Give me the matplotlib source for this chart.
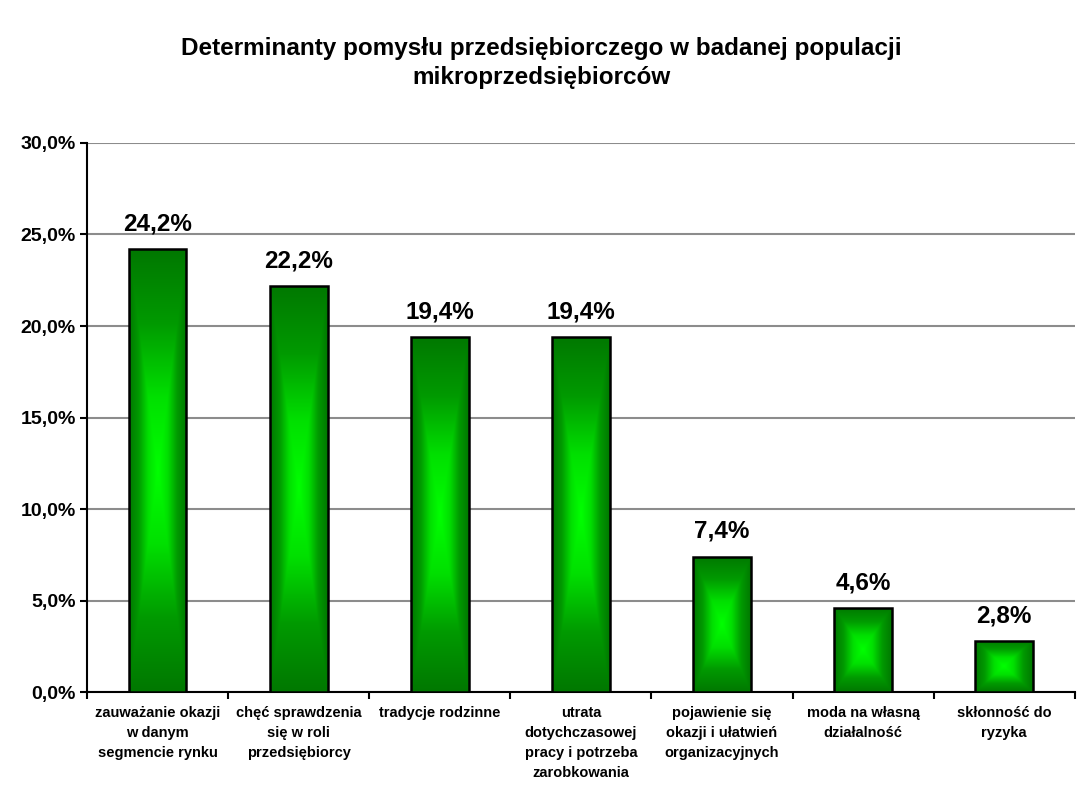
import numpy as np
import matplotlib.pyplot as plt
from matplotlib.colors import LinearSegmentedColormap

categories = [
    "zauważanie okazji\nw danym\nsegmencie rynku",
    "chęć sprawdzenia\nsię w roli\nprzedsiębiorcy",
    "tradycje rodzinne",
    "utrata\ndotychczasowej\npracy i potrzeba\nzarobkowania",
    "pojawienie się\nokazji i ułatwień\norganizacyjnych",
    "moda na własną\ndziałalność",
    "skłonność do\nryzyka",
]
values = [24.2, 22.2, 19.4, 19.4, 7.4, 4.6, 2.8]
yticks = [0, 5, 10, 15, 20, 25, 30]
title = "Determinanty pomysłu przedsiębiorczego w badanej populacji\nmikroprzedsiębiorców"

plt.rcParams['font.family'] = ['Liberation Sans', 'DejaVu Sans']

fig = plt.figure(figsize=(10.82, 7.87), dpi=100)
ax = fig.add_axes([0.0804, 0.1207, 0.913, 0.6976])

cmap = LinearSegmentedColormap.from_list("grn", ["#00ff00", "#00e000", "#009a00", "#007800"])
width = 0.41

# gradient "from center" fill for each bar
u = np.linspace(-1, 1, 200)
U, V = np.meshgrid(u, u)
grad = np.maximum(np.abs(U), np.abs(V))

bars = ax.bar(range(len(values)), values, width=width, facecolor='none',
              edgecolor='black', linewidth=1.8, zorder=4)
for b in bars:
    x0, y0 = b.get_x(), b.get_y()
    im = ax.imshow(grad, cmap=cmap, vmin=0, vmax=1, aspect='auto',
                   extent=[x0, x0 + b.get_width(), y0, y0 + b.get_height()],
                   zorder=3, interpolation='bilinear')
    im.set_clip_path(b)

for i, v in enumerate(values):
    ax.text(i, v + 0.75, ("%.1f%%" % v).replace('.', ','), ha='center', va='bottom',
            fontsize=17.5, fontweight='bold', zorder=5)

ax.set_xlim(-0.5, len(values) - 0.5)
ax.set_ylim(0, 30)
ax.set_yticks(yticks)
ax.set_yticklabels([("%.1f%%" % t).replace('.', ',') for t in yticks],
                   fontsize=14, fontweight='bold')
ax.yaxis.grid(True, color='#8c8c8c', linewidth=1.5)
ax.set_axisbelow(True)
ax.tick_params(axis='y', length=5, width=1.5, pad=3)

ax.set_xticks(range(len(values)))
ax.set_xticklabels(categories, fontsize=10.5, fontweight='bold', linespacing=1.55, va='top')
ax.tick_params(axis='x', length=0, pad=10)
ax.set_xticks(np.arange(-0.5, len(values), 1), minor=True)
ax.tick_params(axis='x', which='minor', length=5, width=1.5)

for s in ['top', 'right']:
    ax.spines[s].set_visible(False)
for s in ['left', 'bottom']:
    ax.spines[s].set_linewidth(1.5)

fig.text(0.5, 0.92, title, ha='center', va='center', fontsize=17.5,
         fontweight='bold', linespacing=1.3)

fig.savefig("out.png", dpi=100, facecolor='white')
